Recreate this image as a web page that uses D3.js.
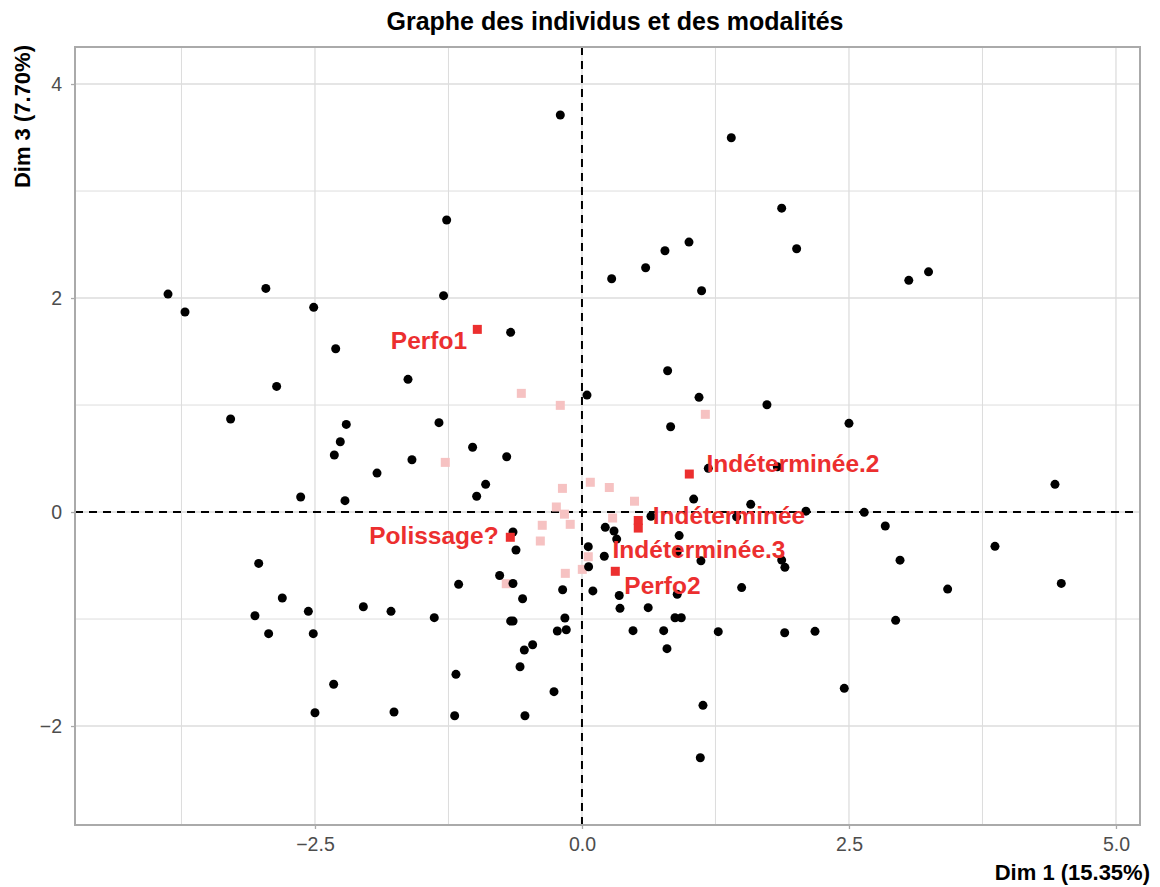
<!DOCTYPE html>
<html><head><meta charset="utf-8">
<script src="https://cdn.jsdelivr.net/npm/d3@7"></script>
<style>body{margin:0;background:#fff;} svg{display:block;font-family:"Liberation Sans",Arial,Helvetica,sans-serif;}</style>
</head><body>
<svg id="chart" width="1160" height="887"></svg>
<script>
// ---- data ----
const title = "Graphe des individus et des modalités";
const xLabel = "Dim 1 (15.35%)";
const yLabel = "Dim 3 (7.70%)";
const xTicks = [-2.5, 0, 2.5, 5];
const yTicks = [-2, 0, 2, 4];
const xMinor = [-3.75, -1.25, 1.25, 3.75];
const yMinor = [-1, 1, 3];

// individuals (black points): Dim1, Dim3
const indX = [-3.876,-3.717,-2.96,-2.512,-1.267,-1.296,-0.203,1.398,1.87,1.002,0.777,0.596,0.278,1.12,2.01,3.06,3.245,-2.306,-0.668,
 -2.859,-1.629,-3.29,-2.207,-2.263,-2.319,-1.592,-1.919,-2.634,-2.219,-1.339,0.047,0.802,1.096,1.732,0.83,-1.024,-0.705,-0.902,-0.986,1.183,1.829,1.046,1.58,0.646,1.448,2.5,4.429,2.097,2.643,2.84,3.867,2.978,
 -0.646,-0.618,0.218,0.3,0.325,0.91,0.059,0.209,0.892,1.114,1.87,1.9,0.062,-0.771,-0.646,-0.556,-0.181,0.102,0.349,0.892,1.495,3.424,4.488,-1.155,0.356,0.62,0.871,0.93,-0.668,-0.645,-0.16,-0.231,-0.147,0.478,0.765,1.276,0.796,-0.462,-0.54,-0.58,-1.18,-0.262,-1.192,-0.534,1.133,1.108,1.898,2.182,2.937,2.456,
 -3.027,-2.806,-3.062,-2.562,-2.047,-1.788,-1.383,-2.934,-2.516,-2.325,-2.5,-1.76];
const indY = [2.037,1.869,2.09,1.913,2.729,2.022,3.71,3.498,2.84,2.523,2.442,2.283,2.18,2.068,2.46,2.165,2.245,1.526,1.679,
 1.174,1.24,0.869,0.819,0.657,0.533,0.489,0.364,0.14,0.106,0.835,1.093,1.32,1.072,1.003,0.797,0.605,0.517,0.259,0.147,0.408,0.423,0.121,0.072,-0.04,-0.045,0.829,0.259,0.008,-0.003,-0.131,-0.321,-0.45,
 -0.187,-0.355,-0.143,-0.177,-0.253,-0.22,-0.324,-0.413,-0.371,-0.456,-0.449,-0.517,-0.511,-0.593,-0.668,-0.81,-0.726,-0.737,-0.78,-0.768,-0.706,-0.72,-0.667,-0.676,-0.9,-0.894,-0.988,-0.988,-1.019,-1.019,-0.99,-1.112,-1.1,-1.109,-1.109,-1.118,-1.277,-1.24,-1.29,-1.446,-1.517,-1.679,-1.904,-1.904,-1.807,-2.296,-1.128,-1.115,-1.012,-1.648,
 -0.48,-0.804,-0.969,-0.928,-0.885,-0.928,-0.987,-1.137,-1.137,-1.61,-1.876,-1.869];

// other categories (light squares)
const modX = [-0.568,-0.203,1.155,-1.28,-0.183,0.078,0.256,0.492,-0.24,-0.164,-0.11,-0.372,-0.39,0.287,0.059,0.003,-0.156,-0.709];
const modY = [1.109,0.997,0.913,0.464,0.221,0.278,0.229,0.101,0.047,-0.02,-0.115,-0.124,-0.271,-0.056,-0.418,-0.536,-0.573,-0.67];

// highlighted categories (red squares, labelled)
const catNames = ["Perfo1","Indéterminée.2","Indéterminée","Indéterminée.3","Polissage?","Perfo2"];
const catX = [-0.98, 1.005, 0.527, 0.527, -0.671, 0.312];
const catY = [1.707, 0.355, -0.079, -0.15, -0.236, -0.554];
// repelled label centres (data units)
const labX = [-1.433, 1.976, 1.376, 1.096, -1.386, 0.754];
const labY = [1.607, 0.458, -0.028, -0.346, -0.22, -0.687];

// ---- layout ----
const svg = d3.select("#chart");
const L = 75, R = 1140, T = 47, B = 825;
const x = d3.scaleLinear().domain([-4.747, 5.225]).range([L, R]);
const y = d3.scaleLinear().domain([-2.925, 4.346]).range([B, T]);
const red = "#EC2F2F", pink = "#F6C2C2", grid = "#DDDDDD";

const g = svg.append("g");
// grid
g.selectAll(".gxm").data(xMinor).join("line").attr("x1", d => x(d)).attr("x2", d => x(d)).attr("y1", T).attr("y2", B).attr("stroke", grid).attr("stroke-width", 1);
g.selectAll(".gym").data(yMinor).join("line").attr("y1", d => y(d)).attr("y2", d => y(d)).attr("x1", L).attr("x2", R).attr("stroke", grid).attr("stroke-width", 1);
g.selectAll(".gx").data(xTicks).join("line").attr("x1", d => x(d)).attr("x2", d => x(d)).attr("y1", T).attr("y2", B).attr("stroke", grid).attr("stroke-width", 1.3);
g.selectAll(".gy").data(yTicks).join("line").attr("y1", d => y(d)).attr("y2", d => y(d)).attr("x1", L).attr("x2", R).attr("stroke", grid).attr("stroke-width", 1.3);

// axes (ticks, labels)
const fmtX = d => d3.format(".1f")(d).replace("-", "\u2212");
const fmtY = d => String(d).replace("-", "\u2212");
const xAxis = d3.axisBottom(x).tickValues(xTicks).tickFormat(fmtX).tickSize(4).tickPadding(8);
const yAxis = d3.axisLeft(y).tickValues(yTicks).tickFormat(fmtY).tickSize(4).tickPadding(9);
const gx = svg.append("g").attr("transform", `translate(0,${B})`).call(xAxis);
const gy = svg.append("g").attr("transform", `translate(${L},0)`).call(yAxis);
[gx, gy].forEach(a => {
  a.select(".domain").remove();
  a.selectAll(".tick line").attr("stroke", "#AAAAAA").attr("stroke-width", 1.3);
  a.selectAll(".tick text").attr("fill", "#4D4D4D").attr("font-size", 19.5).attr("font-family", "Liberation Sans, Arial, sans-serif");
});

// zero dashed lines
svg.append("line").attr("x1", x(0)).attr("x2", x(0)).attr("y1", T).attr("y2", B).attr("stroke", "#000").attr("stroke-width", 2).attr("stroke-dasharray", "8,6");
svg.append("line").attr("y1", y(0)).attr("y2", y(0)).attr("x1", L).attr("x2", R).attr("stroke", "#000").attr("stroke-width", 2).attr("stroke-dasharray", "8,6");

// light squares
const s = 9;
svg.selectAll(".mod").data(modX.map((d, i) => [d, modY[i]])).join("rect")
  .attr("x", d => x(d[0]) - s / 2).attr("y", d => y(d[1]) - s / 2).attr("width", s).attr("height", s).attr("fill", pink);
// individuals
svg.selectAll(".ind").data(indX.map((d, i) => [d, indY[i]])).join("circle")
  .attr("cx", d => x(d[0])).attr("cy", d => y(d[1])).attr("r", 4.5).attr("fill", "#000");
// red squares
svg.selectAll(".cat").data(catX.map((d, i) => [d, catY[i]])).join("rect")
  .attr("x", d => x(d[0]) - s / 2).attr("y", d => y(d[1]) - s / 2).attr("width", s).attr("height", s).attr("fill", red);
// labels
const fsLab = 24.5;
svg.selectAll(".lab").data(catNames.map((n, i) => ({ n, x: labX[i], y: labY[i] }))).join("text")
  .attr("x", d => x(d.x)).attr("y", d => y(d.y) + fsLab * 0.36)
  .attr("text-anchor", "middle").attr("font-weight", "bold").attr("font-size", fsLab).attr("fill", red).text(d => d.n);

// panel border
svg.append("rect").attr("x", L).attr("y", T).attr("width", R - L).attr("height", B - T).attr("fill", "none").attr("stroke", "#AAAAAA").attr("stroke-width", 2);

// titles
svg.append("text").attr("x", 615).attr("y", 30).attr("text-anchor", "middle").attr("font-weight", "bold").attr("font-size", 25).attr("fill", "#000").text(title);
svg.append("text").attr("x", 1150).attr("y", 880).attr("text-anchor", "end").attr("font-weight", "bold").attr("font-size", 22).attr("fill", "#000").text(xLabel);
svg.append("text").attr("transform", "translate(30,45) rotate(-90)").attr("text-anchor", "end").attr("font-weight", "bold").attr("font-size", 22).attr("fill", "#000").text(yLabel);
</script>
</body></html>
